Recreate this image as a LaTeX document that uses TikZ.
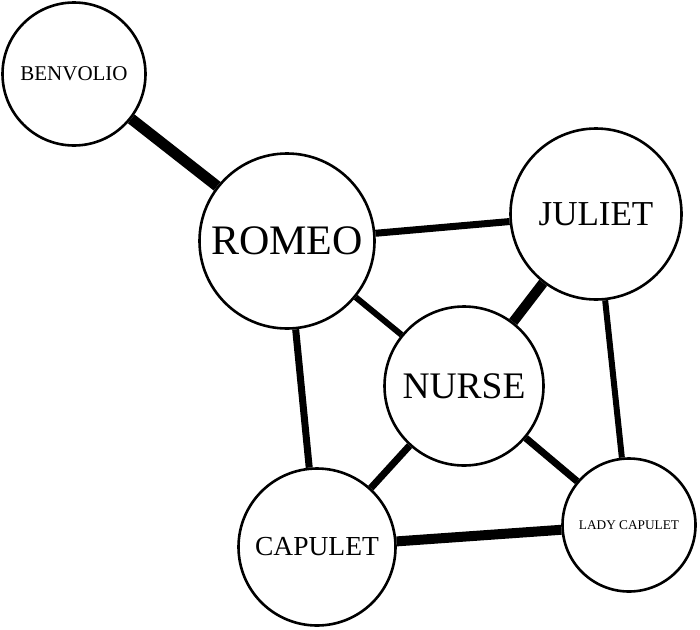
\documentclass[tikz,border=0pt]{standalone}
\usepackage{fontspec}
\setmainfont{Liberation Serif}

\begin{document}
\begin{tikzpicture}[x=1pt,y=-1pt,
  person/.style={circle,draw,line width=2.6pt,fill=white,inner sep=0pt}]
\useasboundingbox (0,0) rectangle (700,629);
\node[person,minimum size=143pt] (benvolio) at (74,74) {\fontsize{21}{25}\selectfont BENVOLIO};
\node[person,minimum size=175pt] (romeo) at (287,241) {\fontsize{42}{48}\selectfont ROMEO};
\node[person,minimum size=171pt] (juliet) at (596,214) {\fontsize{35}{40}\selectfont JULIET};
\node[person,minimum size=159pt] (nurse) at (464,386) {\fontsize{37.5}{42}\selectfont NURSE};
\node[person,minimum size=157pt] (capulet) at (317,547) {\fontsize{27.5}{32}\selectfont CAPULET};
\node[person,minimum size=133pt] (lady) at (629,525) {\fontsize{13.3}{16}\selectfont LADY CAPULET};
\draw[line width=11pt] (benvolio) -- (romeo);
\draw[line width=7pt] (romeo) -- (juliet);
\draw[line width=6pt] (romeo) -- (nurse);
\draw[line width=7pt] (romeo) -- (capulet);
\draw[line width=10pt] (juliet) -- (nurse);
\draw[line width=6pt] (juliet) -- (lady);
\draw[line width=7pt] (nurse) -- (capulet);
\draw[line width=7pt] (nurse) -- (lady);
\draw[line width=10pt] (capulet) -- (lady);
\end{tikzpicture}
\end{document}
